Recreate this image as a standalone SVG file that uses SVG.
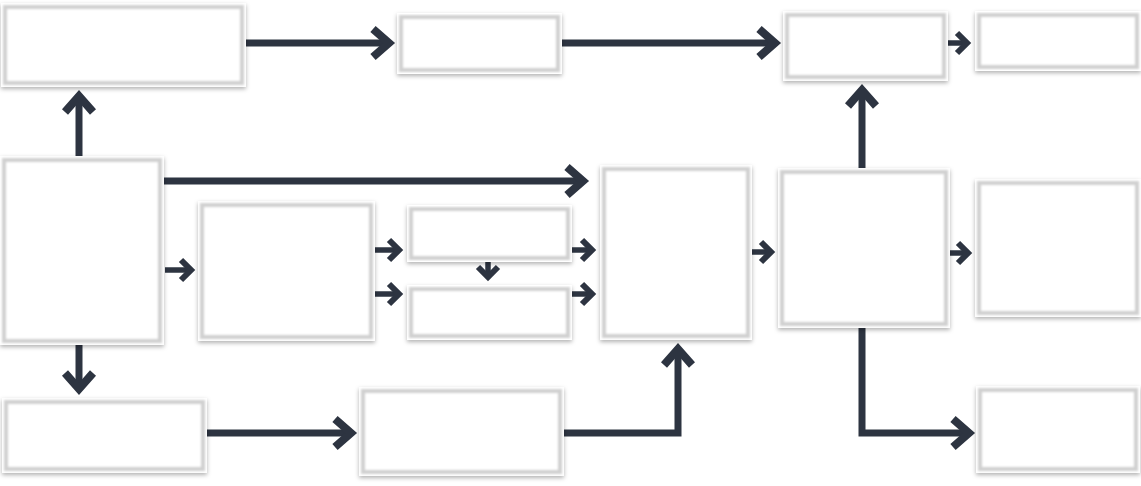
<svg xmlns="http://www.w3.org/2000/svg" width="1141" height="486" viewBox="0 0 1141 486">
<style>
.box{fill:#ffffff;filter:url(#ds)}
.frame{fill:none;stroke:#d0d0d0;stroke-width:4;filter:url(#bl)}
.c{fill:none;stroke:#2d3441;stroke-width:7;stroke-linejoin:miter}
.s{fill:none;stroke:#2d3441;stroke-width:5.5;stroke-linejoin:miter}
</style>
<defs>
<filter id="ds" x="-10%" y="-10%" width="120%" height="130%">
<feDropShadow dx="0" dy="2" stdDeviation="2" flood-color="#000" flood-opacity="0.3"/>
</filter>
<filter id="bl" x="-5%" y="-5%" width="110%" height="110%">
<feGaussianBlur stdDeviation="1.2"/>
</filter>
<marker id="ab" markerUnits="userSpaceOnUse" viewBox="-24 -18 30 36" refX="0" refY="0" markerWidth="30" markerHeight="36" orient="auto" overflow="visible">
<path d="M-16,-14 L0,0 L-16,14" fill="none" stroke="#2d3441" stroke-width="8" stroke-linejoin="miter"/>
</marker>
<marker id="as" markerUnits="userSpaceOnUse" viewBox="-16 -12 20 24" refX="0" refY="0" markerWidth="20" markerHeight="24" orient="auto" overflow="visible">
<path d="M-10,-10 L0,0 L-10,10" fill="none" stroke="#2d3441" stroke-width="6" stroke-linejoin="miter"/>
</marker>
</defs>
<rect width="1141" height="486" fill="#ffffff"/>
<g id="connectors">
<path class="c" d="M246,43 H389" marker-end="url(#ab)"/>
<path class="c" d="M562,43 H775" marker-end="url(#ab)"/>
<path class="s" d="M948,43 H967" marker-end="url(#as)"/>
<path class="c" d="M79,156 V96" marker-end="url(#ab)"/>
<path class="c" d="M164,181 H583" marker-end="url(#ab)"/>
<path class="s" d="M165,270 H191" marker-end="url(#as)"/>
<path class="s" d="M375,250 H399" marker-end="url(#as)"/>
<path class="s" d="M375,294 H399" marker-end="url(#as)"/>
<path class="s" d="M488,262 V277" marker-end="url(#as)"/>
<path class="s" d="M572,250 H592" marker-end="url(#as)"/>
<path class="s" d="M572,294 H592" marker-end="url(#as)"/>
<path class="s" d="M752,252 H771" marker-end="url(#as)"/>
<path class="c" d="M862,168 V90" marker-end="url(#ab)"/>
<path class="s" d="M950,253 H968" marker-end="url(#as)"/>
<path class="c" d="M862,328 V433 H969" marker-end="url(#ab)"/>
<path class="c" d="M79,345 V389" marker-end="url(#ab)"/>
<path class="c" d="M207,433 H351" marker-end="url(#ab)"/>
<path class="c" d="M564,433 H678 V349" marker-end="url(#ab)"/>
</g>
<g id="nodeA"><rect class="box" x="1" y="3" width="245" height="84"/><rect class="frame" x="5" y="7" width="237" height="76"/></g>
<g id="nodeB"><rect class="box" x="397" y="13" width="165" height="61"/><rect class="frame" x="401" y="17" width="157" height="53"/></g>
<g id="nodeC"><rect class="box" x="783" y="11" width="165" height="70"/><rect class="frame" x="787" y="15" width="157" height="62"/></g>
<g id="nodeD"><rect class="box" x="975" y="11" width="166" height="60"/><rect class="frame" x="979" y="15" width="158" height="52"/></g>
<g id="nodeE"><rect class="box" x="0" y="156" width="164" height="189"/><rect class="frame" x="4" y="160" width="156" height="181"/></g>
<g id="nodeF"><rect class="box" x="198" y="201" width="177" height="140"/><rect class="frame" x="202" y="205" width="169" height="132"/></g>
<g id="nodeG"><rect class="box" x="407" y="205" width="165" height="57"/><rect class="frame" x="411" y="209" width="157" height="49"/></g>
<g id="nodeH"><rect class="box" x="407" y="285" width="165" height="55"/><rect class="frame" x="411" y="289" width="157" height="47"/></g>
<g id="nodeI"><rect class="box" x="600" y="165" width="152" height="175"/><rect class="frame" x="604" y="169" width="144" height="167"/></g>
<g id="nodeJ"><rect class="box" x="778" y="168" width="172" height="160"/><rect class="frame" x="782" y="172" width="164" height="152"/></g>
<g id="nodeK"><rect class="box" x="975" y="179" width="166" height="138"/><rect class="frame" x="979" y="183" width="158" height="130"/></g>
<g id="nodeL"><rect class="box" x="2" y="398" width="205" height="75"/><rect class="frame" x="6" y="402" width="197" height="67"/></g>
<g id="nodeM"><rect class="box" x="359" y="387" width="205" height="89"/><rect class="frame" x="363" y="391" width="197" height="81"/></g>
<g id="nodeN"><rect class="box" x="976" y="386" width="164" height="87"/><rect class="frame" x="980" y="390" width="156" height="79"/></g>
</svg>
